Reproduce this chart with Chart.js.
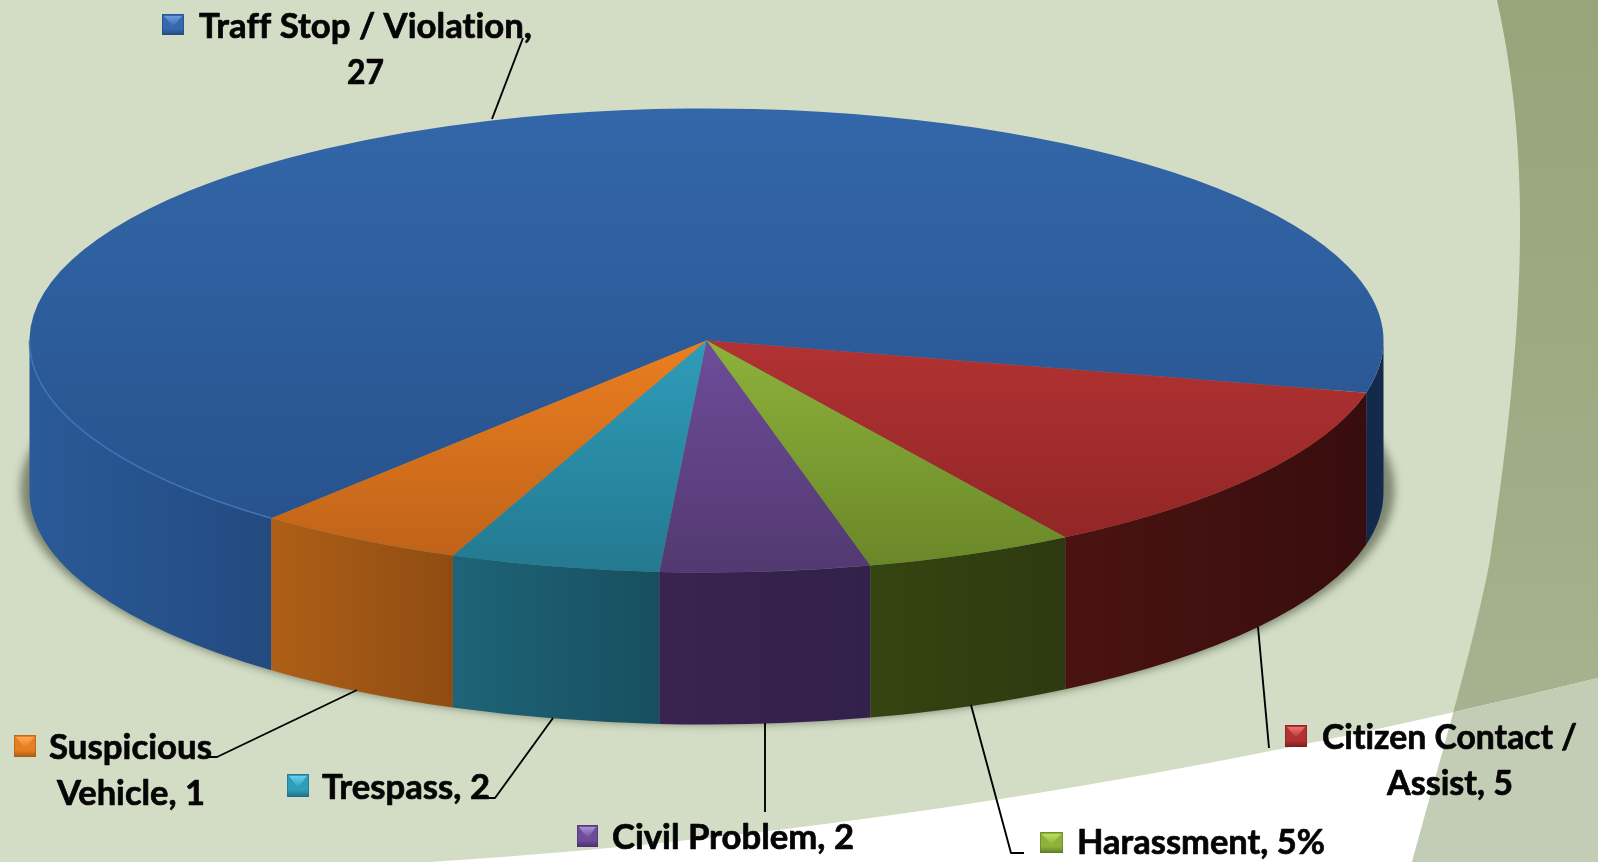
<!DOCTYPE html>
<html>
<head>
<meta charset="utf-8">
<title>Calls by type</title>
<script src="https://cdn.jsdelivr.net/npm/chart.js@4"></script>
<style>
html,body{margin:0;padding:0;background:#D3DCC4;overflow:hidden}
canvas{display:block}
</style>
</head>
<body>
<canvas id="c" width="1598" height="862"></canvas>
<script>
// the printed labels are kept exactly as the reference prints them.
const categories = ['Traff Stop / Violation','Citizen Contact / Assist','Harassment','Civil Problem','Trespass','Suspicious Vehicle'];
const sliceValues = [27, 5, 2, 2, 2, 2];
const labelLines = [
  ['Traff Stop / Violation,', '27'],
  ['Citizen Contact /', 'Assist, 5'],
  ['Harassment, 5%'],
  ['Civil Problem, 2'],
  ['Trespass, 2'],
  ['Suspicious', 'Vehicle, 1']
];

// Styles
const topColors = [
  ['#3367A9','#26508A'],['#B23232','#8C2424'],['#8DB23A','#698628'],
  ['#6E4C9A','#523970'],['#2F9CBA','#237990'],['#EB7E20','#BC6118']
];
const wallColors = [
  ['#2A5A98','#234A80'],['#4A1312','#380D0D'],['#354510','#2D3A10'],
  ['#38244F','#32214A'],['#1E6478','#174F5F'],['#AE5F17','#8F4C12']
];
const blueRightWall = ['#14294A','#122A4C'];
const rimColors = ['#3E74BA',null,null,null,'#3AA6C4','#F09038'];
const keyColors = [
  ['#76A6E6','#3568AD','#24497E'],['#F08080','#B23232','#7A1E1E'],['#C5E36A','#8DB23A','#5E7A24'],
  ['#B79BE0','#6E4C9A','#4A3368'],['#74D8F2','#2F9CBA','#1F6E84'],['#FFB060','#E67E22','#A85A14']
];

// Layout
const pie = {cx:706.5, cy:340.5, rx:677, ry:232, depth:152};
const textFont = 'bold 35px Lato, "Open Sans", sans-serif';
const labelLayout = [
  {key:[162,14,22,21], lines:[[199,38,333],[347,84,37]],  lead:[[523,38],[492,119]]},
  {key:[1285,725,22,22], lines:[[1322,749,255],[1387,795,126]], lead:[[1258,627],[1269,748]]},
  {key:[1040,832,23,21], lines:[[1077,854,248]], lead:[[971,705],[1011,853],[1024,853]]},
  {key:[577,825,21,22], lines:[[612,849,242]], lead:[[765,723],[765,812]]},
  {key:[287,774,22,23], lines:[[322,799,168]], lead:[[553,718],[495,798],[482,798]]},
  {key:[14,735,22,22], lines:[[49,759,163],[57,805,148]], lead:[[357,690],[217,757],[199,757]]}
];

function drawBackground(ctx){
  const W=1598,H=862;
  ctx.save();
  ctx.fillStyle='#D3DCC4'; ctx.fillRect(0,0,W,H);
  const swoosh=new Path2D('M1497 0 C1528 140 1530 300 1490 560 C1475 640 1440 760 1412 862 L1598 862 L1598 0 Z');
  const g=ctx.createLinearGradient(0,0,0,720);
  g.addColorStop(0,'#96A57A'); g.addColorStop(.5,'#9CAB82'); g.addColorStop(1,'#A6B390');
  ctx.fillStyle=g; ctx.fill(swoosh);
  const low=new Path2D('M430 862 Q1000 826 1598 678 L1598 862 Z');
  ctx.fillStyle='#FFFFFF'; ctx.fill(low);
  ctx.clip(swoosh);
  ctx.fillStyle='#C3CCB4'; ctx.fill(low);
  ctx.restore();
}

function ellipsePoint(a,dy){ return [pie.cx+pie.rx*Math.cos(a), pie.cy+pie.ry*Math.sin(a)+(dy||0)]; }

function drawWall(ctx,a0,a1,colors){
  const [x0]=ellipsePoint(a0), [x1]=ellipsePoint(a1);
  const g=ctx.createLinearGradient(Math.min(x0,x1),0,Math.max(x0,x1),0);
  g.addColorStop(0,colors[0]); g.addColorStop(1,colors[1]);
  ctx.beginPath();
  ctx.ellipse(pie.cx,pie.cy,pie.rx,pie.ry,0,a0,a1,false);
  ctx.ellipse(pie.cx,pie.cy+pie.depth,pie.rx,pie.ry,0,a1,a0,true);
  ctx.closePath();
  ctx.fillStyle=g; ctx.fill();
}

function drawRim(ctx,a0,a1,color){
  ctx.beginPath();
  ctx.ellipse(pie.cx,pie.cy,pie.rx,pie.ry,0,a0,a1,false);
  ctx.strokeStyle=color; ctx.lineWidth=1.6; ctx.stroke();
}

function frontParts(s,e){
  const parts=[];
  for(const k of [0,2*Math.PI]){
    const a0=Math.max(s,k), a1=Math.min(e,k+Math.PI);
    if(a1>a0) parts.push([a0,a1]);
  }
  return parts;
}

const pie3d = {
  id:'pie3d',
  beforeDraw(chart){ drawBackground(chart.ctx); },
  beforeDatasetsDraw(chart){
    const ctx=chart.ctx, arcs=chart.getDatasetMeta(0).data;
    // ground shadow
    ctx.save();
    ctx.filter='blur(4px)';
    ctx.fillStyle='rgba(70,80,60,.62)';
    ctx.beginPath();
    ctx.ellipse(pie.cx+1,pie.cy+149,pie.rx+10,pie.ry+3,0,0,2*Math.PI);
    ctx.fill();
    ctx.restore();
    // side walls, from the arcs' own angles
    ctx.save();
    arcs.forEach((arc,i)=>{
      frontParts(arc.startAngle,arc.endAngle).forEach(([a0,a1])=>{
        const colors=(i===0 && a1<Math.PI*2.5 && a0>=Math.PI*2)?blueRightWall:wallColors[i];
        drawWall(ctx,a0,a1,colors);
      });
    });
    ctx.restore();
    // squash the library's circular pie into the ellipse of the top face
    const a=arcs[0];
    ctx.save();
    ctx.translate(pie.cx,pie.cy);
    ctx.scale(pie.rx/a.outerRadius,pie.ry/a.outerRadius);
    ctx.translate(-a.x,-a.y);
  },
  afterDatasetsDraw(chart){
    const ctx=chart.ctx, arcs=chart.getDatasetMeta(0).data;
    ctx.restore();
    ctx.save();
    arcs.forEach((arc,i)=>{
      if(!rimColors[i]) return;
      frontParts(arc.startAngle,arc.endAngle).forEach(([a0,a1])=>{
        if(a0<Math.PI*2) drawRim(ctx,a0,a1,rimColors[i]);
      });
    });
    ctx.restore();
    drawLabels(ctx);
  }
};

function drawKey(ctx,[x,y,w,h],[light,mid,dark]){
  const g=ctx.createLinearGradient(0,y,0,y+h);
  g.addColorStop(0,mid); g.addColorStop(.7,mid); g.addColorStop(1,dark);
  ctx.fillStyle=g; ctx.fillRect(x,y,w,h);
  const t=ctx.createLinearGradient(0,y,0,y+h*.6);
  t.addColorStop(0,light); t.addColorStop(1,mid);
  ctx.fillStyle=t;
  ctx.beginPath();
  ctx.moveTo(x+2,y+2); ctx.lineTo(x+w-2,y+2); ctx.lineTo(x+w/2,y+h*.6); ctx.closePath();
  ctx.fill();
  ctx.strokeStyle=dark; ctx.globalAlpha=.6; ctx.lineWidth=1;
  ctx.strokeRect(x+.5,y+.5,w-1,h-1); ctx.globalAlpha=1;
}

function drawLabels(ctx){
  ctx.save();
  ctx.strokeStyle='#000'; ctx.lineWidth=1.9; ctx.lineJoin='round';
  labelLayout.forEach(l=>{
    ctx.beginPath();
    l.lead.forEach(([x,y],j)=> j?ctx.lineTo(x,y):ctx.moveTo(x,y));
    ctx.stroke();
  });
  ctx.font=textFont; ctx.textAlign='left'; ctx.textBaseline='alphabetic';
  ctx.letterSpacing='0.01px'; // switches off Lato's "ti" ligature
  labelLayout.forEach((l,i)=>{
    drawKey(ctx,l.key,keyColors[i]);
    ctx.fillStyle='#050505'; ctx.strokeStyle='#050505'; ctx.lineWidth=.7;
    labelLines[i].forEach((text,j)=>{
      const [x,y,w]=l.lines[j];
      ctx.fillText(text,x,y,w);
      ctx.strokeText(text,x,y,w);
    });
  });
  ctx.restore();
}

function sliceFill(context){
  const chart=context.chart, i=context.dataIndex;
  const g=chart.ctx.createLinearGradient(0,i===0?0:chart.height/2,0,chart.height);
  g.addColorStop(0,topColors[i][0]); g.addColorStop(1,topColors[i][1]);
  return g;
}

new Chart(document.getElementById('c'),{
  type:'pie',
  data:{labels:categories,datasets:[{data:sliceValues,backgroundColor:sliceFill,borderWidth:0}]},
  options:{
    responsive:false,animation:false,rotation:220,
    layout:{padding:0},
    plugins:{legend:{display:false},tooltip:{enabled:false},title:{display:false}}
  },
  plugins:[pie3d]
});
</script>
</body>
</html>
